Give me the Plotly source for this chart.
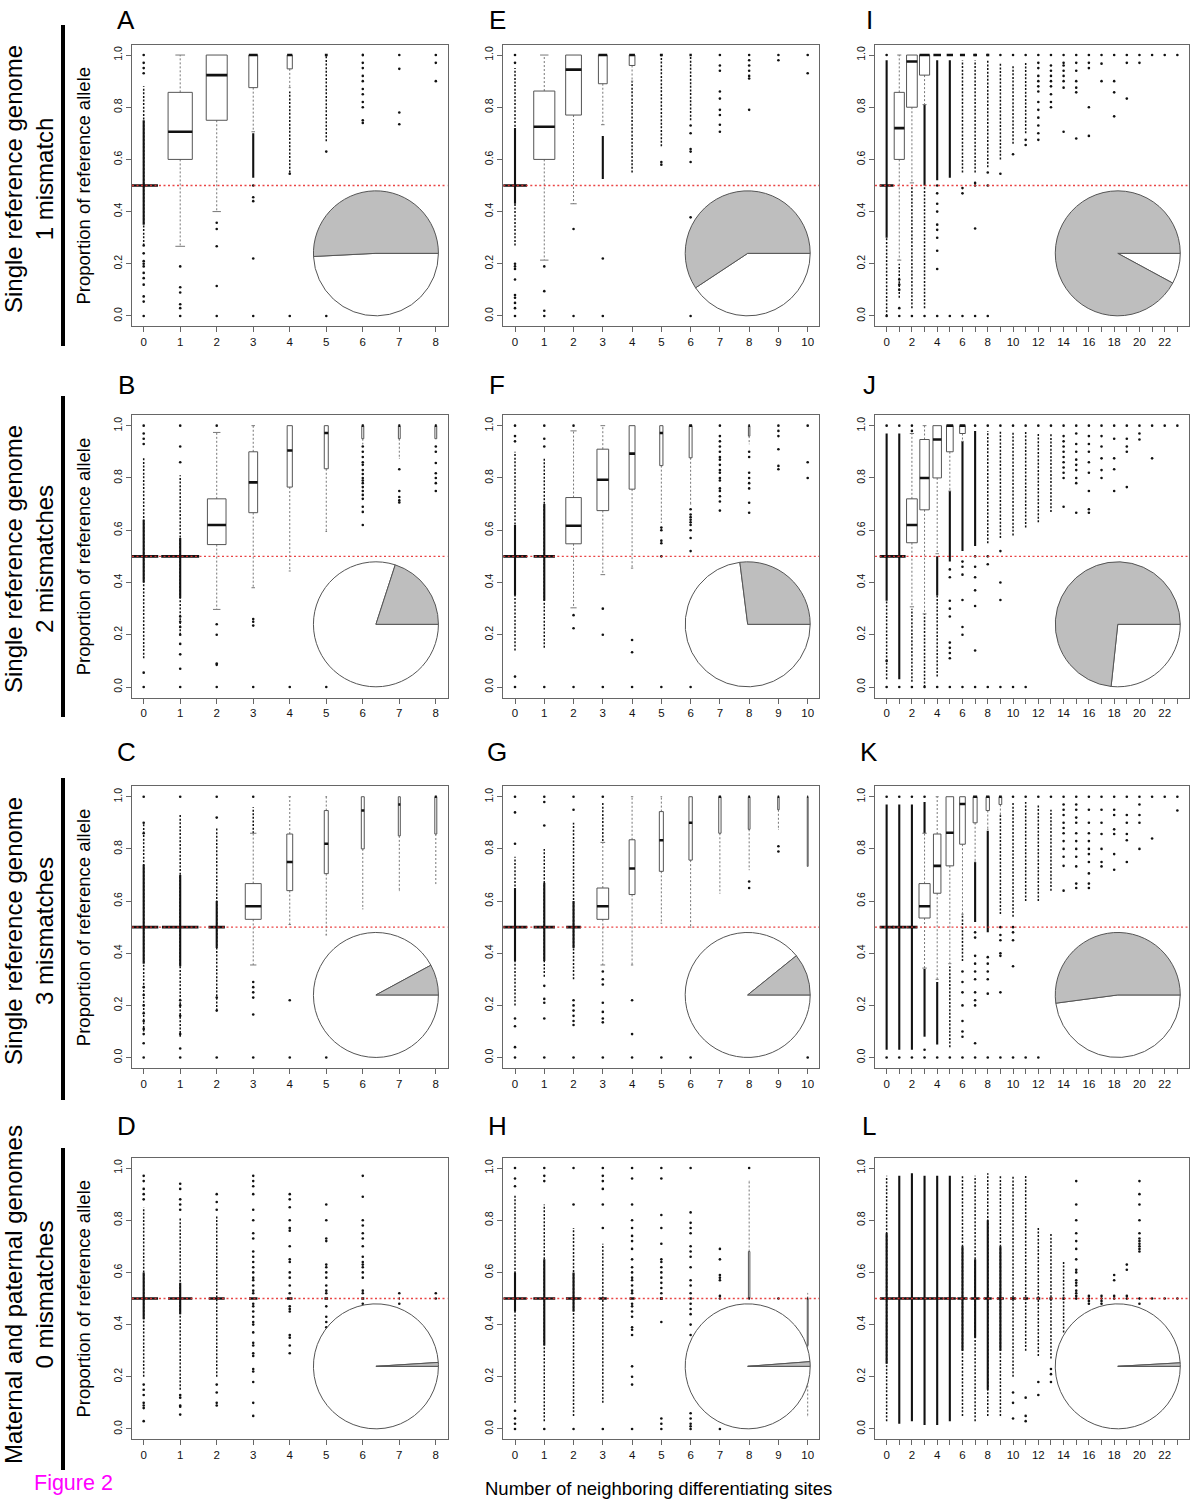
import plotly.graph_objects as go

FIG_W, FIG_H = 1190, 1501

# ---------------------------------------------------------------
# Per-panel values.
#   *_n     : relative number of sites per category (box width ~ sqrt(n))
#   *_box   : (lower whisker, Q1, median, Q3, upper whisker) or None
#   *_pts   : individual outlying values per category
#   *_thick : (category, low, high) runs of densely packed outliers
#   *_thin  : (category, low, high) runs of loosely packed outliers
#   *_pie   : fraction of sites shown as the grey pie slice
# ---------------------------------------------------------------
H5 = (0.5, 0.5, 0.5, 0.5, 0.5)
ONE = (1.0, 1.0, 1.0, 1.0, 1.0)

# ---- A : single reference, 1 mismatch (window 8) ----
A_n = [6100, 4400, 3300, 580, 200, 60, 20, 4, 3]
A_box = [H5, (0.267, 0.6, 0.706, 0.857, 1.0), (0.4, 0.75, 0.923, 1.0, 1.0),
         (0.706, 0.875, 1.0, 1.0, 1.0), (0.875, 0.947, 1.0, 1.0, 1.0), ONE, ONE, None, None]
A_pts = [[0, 0.055, 0.075, 0.12, 0.145, 0.165, 0.19, 0.2, 0.21, 0.24, 0.27, 0.93, 0.95, 0.97, 1.0],
         [0, 0.03, 0.045, 0.09, 0.11, 0.19],
         [0, 0.115, 0.267, 0.333, 0.357],
         [0, 0.22, 0.44, 0.455, 0.5],
         [0, 0.545],
         [0, 0.63],
         [0.74, 0.75, 0.8, 0.82, 0.85, 0.87, 0.9, 0.92, 0.95, 0.97, 1.0],
         [0.735, 0.78, 0.947, 1.0],
         [0.9, 0.97, 1.0]]
A_thick = [(0, 0.35, 0.75), (3, 0.53, 0.70)]
A_thin = [(0, 0.27, 0.88), (4, 0.55, 0.86), (5, 0.67, 1.0)]
A_pie = 0.508

# ---- B : single reference, 2 mismatches (window 8) ----
B_n = [6400, 10800, 2600, 580, 200, 120, 30, 25, 25]
B_box = [H5, H5, (0.297, 0.545, 0.62, 0.72, 0.974), (0.38, 0.667, 0.783, 0.9, 1.0),
         (0.444, 0.765, 0.905, 1.0, 1.0), (0.595, 0.835, 0.972, 1.0, 1.0),
         (0.93, 0.95, 1.0, 1.0, 1.0), (0.875, 0.95, 1.0, 1.0, 1.0), (0.95, 0.95, 1.0, 1.0, 1.0)]
B_pts = [[0, 0.055, 0.93, 0.95, 0.97, 1.0],
         [0, 0.07, 0.125, 0.165, 0.2, 0.23, 0.25, 0.27, 0.86, 0.92, 1.0],
         [0, 0.085, 0.09, 0.2, 0.24, 1.0],
         [0, 0.235, 0.25, 0.26],
         [0],
         [0],
         [0.62, 0.67, 0.69, 0.72, 0.735, 0.75, 0.765, 0.78, 0.79, 0.8, 0.815, 0.83, 0.85, 0.86, 0.88, 0.9, 0.92],
         [0.706, 0.714, 0.727, 0.75, 0.833],
         [0.75, 0.78, 0.8, 0.818, 0.857, 0.9, 0.92]]
B_thick = [(0, 0.40, 0.64), (1, 0.34, 0.57)]
B_thin = [(0, 0.11, 0.88), (1, 0.2, 0.81)]
B_pie = 0.2

# ---- C : single reference, 3 mismatches (window 8) ----
C_n = [6400, 10000, 2000, 1900, 260, 120, 64, 30, 30]
C_box = [H5, H5, H5, (0.355, 0.53, 0.58, 0.667, 0.86), (0.51, 0.64, 0.75, 0.857, 1.0),
         (0.47, 0.705, 0.82, 0.947, 1.0), (0.57, 0.8, 0.947, 1.0, 1.0),
         (0.64, 0.85, 0.97, 1.0, 1.0), (0.667, 0.857, 1.0, 1.0, 1.0)]
C_pts = [[0, 0.055, 0.09, 0.11, 0.14, 0.17, 0.2, 0.24, 0.27, 0.86, 0.9, 1.0],
         [0, 0.035, 0.09, 0.16, 0.2, 0.22, 1.0],
         [0, 0.18, 0.23, 0.92, 1.0],
         [0, 0.165, 0.23, 0.25, 0.27, 0.29, 1.0],
         [0, 0.22],
         [0], [], [], []]
C_thick = [(0, 0.36, 0.74), (1, 0.35, 0.70), (2, 0.42, 0.60)]
C_thin = [(0, 0.1, 0.9), (1, 0.08, 0.93), (2, 0.18, 0.88), (3, 0.86, 0.96)]
C_pie = 0.079

# ---- D : parental genomes, 0 mismatches (window 8) ----
D_n = [6200, 4400, 1900, 530, 220, 100, 64, 10, 10]
D_box = [H5, H5, H5, H5, H5, H5, H5, H5, None]
D_pts = [[0.03, 0.08, 0.09, 0.1, 0.13, 0.15, 0.17, 0.88, 0.9, 0.92, 0.95, 0.97],
         [0.055, 0.085, 0.09, 0.12, 0.13, 0.84, 0.86, 0.88, 0.92, 0.94],
         [0.09, 0.1, 0.14, 0.17, 0.84, 0.87, 0.9],
         [0.05, 0.1, 0.18, 0.22, 0.23, 0.28, 0.29, 0.32, 0.33, 0.37, 0.4, 0.41, 0.43, 0.45, 0.47,
          0.48, 0.52, 0.53, 0.55, 0.57, 0.58, 0.6, 0.62, 0.64, 0.66, 0.68, 0.73, 0.75, 0.8, 0.84,
          0.9, 0.93, 0.95, 0.97],
         [0.29, 0.32, 0.35, 0.36, 0.45, 0.46, 0.47, 0.52, 0.55, 0.58, 0.6, 0.64, 0.65, 0.7, 0.76,
          0.77, 0.8, 0.85, 0.88, 0.9],
         [0.39, 0.41, 0.43, 0.47, 0.52, 0.53, 0.55, 0.58, 0.6, 0.62, 0.63, 0.72, 0.73, 0.8, 0.86],
         [0.48, 0.52, 0.53, 0.58, 0.6, 0.62, 0.63, 0.64, 0.66, 0.7, 0.73, 0.75, 0.78, 0.8, 0.89, 0.97],
         [0.48, 0.52],
         [0.5, 0.52]]
D_thick = [(0, 0.42, 0.60), (1, 0.44, 0.56)]
D_thin = [(0, 0.2, 0.85), (1, 0.15, 0.81), (2, 0.2, 0.82)]
D_pie = 0.01

# ---- E : single reference, 1 mismatch (window 10) ----
E_n = [6700, 5200, 2900, 900, 380, 100, 64, 9, 9, 2, 2]
E_box = [H5, (0.214, 0.6, 0.725, 0.862, 1.0), (0.43, 0.77, 0.944, 1.0, 1.0),
         (0.733, 0.89, 1.0, 1.0, 1.0), (0.9, 0.96, 1.0, 1.0, 1.0), ONE, ONE, None, None, None, None]
E_pts = [[0, 0.03, 0.05, 0.07, 0.08, 0.14, 0.18, 0.19, 0.2, 0.97, 1.0],
         [0, 0.02, 0.095, 0.19],
         [0, 0.333],
         [0, 0.22],
         [],
         [0.58, 0.59],
         [0, 0.378, 0.59, 0.63, 0.64, 0.7, 0.73],
         [0.706, 0.733, 0.77, 0.79, 0.833, 0.86, 0.94, 0.96, 1.0],
         [0.79, 0.91, 0.92, 0.94, 0.96, 0.98, 1.0],
         [0.98, 1.0],
         [0.93, 1.0]]
E_thick = [(0, 0.43, 0.72), (3, 0.525, 0.69)]
E_thin = [(0, 0.27, 0.95), (4, 0.55, 0.9), (5, 0.65, 1.0), (6, 0.75, 1.0)]
E_pie = 0.593

# ---- F : single reference, 2 mismatches (window 10) ----
F_n = [7000, 5300, 2800, 1600, 400, 120, 100, 20, 25, 6, 3]
F_box = [H5, H5, (0.303, 0.548, 0.617, 0.725, 0.98), (0.43, 0.675, 0.793, 0.91, 1.0),
         (0.455, 0.757, 0.893, 1.0, 1.0), (0.63, 0.847, 0.972, 1.0, 1.0),
         (0.7, 0.877, 1.0, 1.0, 1.0), None, (0.93, 0.96, 1.0, 1.0, 1.0), None, None]
F_pts = [[0, 0.04, 0.94, 0.96, 1.0],
         [0, 0.92, 0.95, 1.0],
         [0, 0.225, 0.275, 1.0],
         [0, 0.2, 0.3],
         [0, 0.133, 0.18],
         [0, 0.5, 0.55, 0.56, 0.6, 0.61],
         [0, 0.52, 0.57, 0.6, 0.62, 0.63, 0.64, 0.65, 0.66, 0.68],
         [0.675, 0.71, 0.73, 0.75, 0.76, 0.79, 0.8, 0.82, 0.83, 0.85, 0.87, 0.88, 0.9, 0.92, 0.94, 0.96, 1.0],
         [0.667, 0.705, 0.76, 0.78, 0.8, 0.82, 0.88, 0.9],
         [0.833, 0.846, 0.91, 0.96, 0.98, 1.0],
         [0.8, 0.86, 1.0]]
F_thick = [(0, 0.35, 0.62), (1, 0.33, 0.70)]
F_thin = [(0, 0.14, 0.9), (1, 0.15, 0.88)]
F_pie = 0.27

# ---- G : single reference, 3 mismatches (window 10) ----
G_n = [7000, 5300, 2500, 1600, 400, 190, 130, 64, 36, 25, 9]
G_box = [H5, H5, H5, (0.355, 0.53, 0.58, 0.65, 0.825), (0.355, 0.625, 0.725, 0.835, 1.0),
         (0.515, 0.714, 0.833, 0.943, 1.0), (0.5, 0.757, 0.9, 1.0, 1.0),
         (0.63, 0.86, 1.0, 1.0, 1.0), (0.72, 0.875, 1.0, 1.0, 1.0),
         (0.875, 0.95, 1.0, 1.0, 1.0), (0.733, 0.733, 1.0, 1.0, 1.0)]
G_pts = [[0, 0.04, 0.12, 0.15, 0.82, 0.94, 1.0],
         [0, 0.15, 0.21, 0.225, 0.275, 0.89, 0.98, 1.0],
         [0, 0.125, 0.14, 0.16, 0.18, 0.2, 0.22, 0.95, 1.0],
         [0, 0.135, 0.15, 0.175, 0.21, 0.28, 0.3, 0.33, 1.0],
         [0, 0.09, 0.22],
         [0], [0], [], [0.65, 0.675], [0.79, 0.81], [0]]
G_thick = [(0, 0.37, 0.65), (1, 0.37, 0.67), (2, 0.42, 0.60)]
G_thin = [(0, 0.2, 0.77), (1, 0.31, 0.8), (2, 0.3, 0.9), (3, 0.83, 0.98)]
G_pie = 0.108

# ---- H : parental genomes, 0 mismatches (window 10) ----
H_n = [6400, 5600, 2700, 730, 290, 100, 64, 20, 25, 4, 9]
H_box = [H5, H5, H5, H5, H5, H5, H5, None, (0.5, 0.5, 0.5, 0.68, 0.95), None,
         (0.05, 0.32, 0.5, 0.5, 0.52)]
H_pts = [[0, 0.02, 0.04, 0.07, 0.93, 0.96, 1.0],
         [0, 0.95, 0.97, 1.0],
         [0, 0.86, 1.0],
         [0, 0.77, 0.86, 0.92, 0.95, 0.97, 1.0],
         [0, 0.17, 0.2, 0.24, 0.36, 0.38, 0.39, 0.43, 0.45, 0.47, 0.48, 0.52, 0.53, 0.55, 0.57, 0.58,
          0.6, 0.62, 0.65, 0.69, 0.72, 0.74, 0.77, 0.8, 0.86, 0.96, 1.0],
         [0, 0.02, 0.04, 0.41, 0.5, 0.52, 0.54, 0.56, 0.58, 0.6, 0.62, 0.64, 0.65, 0.71, 0.77, 0.82,
          0.96, 1.0],
         [0, 0.01, 0.02, 0.04, 0.06, 0.36, 0.4, 0.44, 0.46, 0.48, 0.52, 0.55, 0.57, 0.62, 0.66, 0.68,
          0.7, 0.75, 0.77, 0.79, 0.83, 1.0],
         [0, 0.5, 0.51, 0.57, 0.58, 0.59, 0.65, 0.69],
         [1.0],
         [0.5],
         []]
H_thick = [(0, 0.45, 0.60), (1, 0.32, 0.65), (2, 0.45, 0.60)]
H_thin = [(0, 0.1, 0.9), (1, 0.03, 0.86), (2, 0.05, 0.77), (3, 0.1, 0.71)]
H_pie = 0.012

# ---- I : single reference, 1 mismatch (window 23) ----
I_n = [12000, 6400, 7200, 6400, 3600, 2500, 1600, 900, 600, 400, 250, 150,
       60, 30, 20, 15, 10, 5, 5, 4, 3, 2, 2, 2]
I_box = [H5, (0.214, 0.6, 0.72, 0.857, 1.0), (0.51, 0.8, 0.975, 1.0, 1.0),
         (0.81, 0.923, 1.0, 1.0, 1.0), ONE, ONE, ONE, ONE, ONE] + [None] * 15
I_pts = [[0, 1.0], [0, 0.03, 0.1, 0.12, 0.14], [0], [0],
         [0, 0.18, 0.25, 0.3, 0.33, 0.35, 0.4, 0.43, 0.47, 0.5],
         [0], [0, 0.47, 0.49], [0, 0.335, 0.5, 0.51, 1.0], [0, 0.5, 0.55, 1.0],
         [0.545, 1.0], [0.62, 1.0], [0.655, 0.675, 1.0],
         [0.675, 0.7, 0.73, 0.76, 0.79, 0.82, 0.86, 0.88, 0.9, 0.92, 0.95, 0.97, 1.0],
         [0.8, 0.82, 0.85, 0.88, 0.9, 0.92, 0.94, 0.96, 1.0],
         [0.706, 0.875, 0.9, 0.92, 0.94, 0.96, 0.97, 1.0],
         [0.68, 0.857, 0.875, 0.9, 0.94, 0.97, 1.0],
         [0.69, 0.8, 0.95, 0.97, 1.0],
         [0.9, 0.967, 1.0],
         [0.765, 0.857, 0.9, 1.0],
         [0.833, 0.97, 1.0],
         [0.97, 1.0], [1.0], [1.0], [1.0]]
I_thick = [(0, 0.3, 0.98), (3, 0.5, 0.81), (4, 0.52, 0.98), (5, 0.53, 0.98)]
I_thin = [(0, 0.0, 0.3), (1, 0.07, 0.2), (2, 0.03, 0.5), (3, 0.03, 0.5), (6, 0.55, 0.98),
          (7, 0.55, 0.98), (8, 0.57, 0.98), (9, 0.6, 0.97), (10, 0.66, 0.96), (11, 0.7, 0.97)]
I_pie = 0.921

# ---- J : single reference, 2 mismatches (window 23) ----
J_n = [12000, 10000, 7200, 5600, 4500, 2800, 2000, 900, 600, 400, 250, 150,
       80, 50, 20, 15, 10, 6, 5, 5, 3, 2, 2, 2]
J_box = [H5, H5, (0.307, 0.552, 0.62, 0.72, 0.97), (0.28, 0.678, 0.8, 0.947, 1.0),
         (0.51, 0.8, 0.947, 1.0, 1.0), (0.75, 0.9, 1.0, 1.0, 1.0),
         (0.94, 0.97, 1.0, 1.0, 1.0)] + [None] * 17
J_pts = [[0, 0.1, 1.0], [0, 1.0], [0, 0.98, 1.0], [0], [0],
         [0, 0.11, 0.13, 0.15, 0.17, 0.27, 0.3, 0.33, 0.42, 0.45],
         [0, 0.2, 0.23, 0.333, 0.43, 0.46, 0.48],
         [0, 0.14, 0.31, 0.37, 0.42, 0.46, 0.5, 1.0],
         [0, 0.47, 0.5, 1.0],
         [0, 0.333, 0.4, 0.52, 1.0],
         [0, 1.0], [0, 1.0], [1.0], [1.0],
         [0.69, 0.8, 0.82, 0.84, 0.86, 0.88, 0.9, 0.92, 0.94, 0.96, 1.0],
         [0.667, 0.78, 0.8, 0.83, 0.85, 0.87, 0.9, 0.93, 0.97, 1.0],
         [0.667, 0.68, 0.75, 0.82, 0.86, 0.9, 0.93, 0.96, 1.0],
         [0.8, 0.83, 0.875, 0.92, 0.96, 1.0],
         [0.75, 0.833, 0.875, 0.95, 1.0],
         [0.765, 0.9, 0.92, 0.95, 1.0],
         [0.947, 0.97, 1.0], [0.875, 1.0], [1.0], [1.0]]
J_thick = [(0, 0.33, 0.97), (1, 0.03, 0.97), (4, 0.35, 0.5), (5, 0.48, 0.75), (6, 0.52, 0.94),
           (7, 0.54, 0.98)]
J_thin = [(0, 0.03, 0.33), (2, 0.02, 0.3), (3, 0.0, 0.28), (4, 0.04, 0.35), (8, 0.55, 0.98),
          (9, 0.57, 0.98), (10, 0.58, 0.98), (11, 0.61, 0.98), (12, 0.63, 0.97), (13, 0.67, 0.97)]
J_pie = 0.733

# ---- K : single reference, 3 mismatches (window 23) ----
K_n = [12000, 12000, 7700, 7700, 3500, 3600, 2000, 1000, 700, 450, 250, 150,
       80, 50, 20, 15, 12, 8, 8, 6, 5, 2, 2, 3]
K_box = [H5, H5, H5, (0.343, 0.535, 0.58, 0.667, 0.86), (0.3, 0.63, 0.735, 0.857, 1.0),
         (0.36, 0.735, 0.862, 1.0, 1.0), (0.55, 0.818, 0.972, 1.0, 1.0),
         (0.75, 0.9, 1.0, 1.0, 1.0), (0.875, 0.947, 1.0, 1.0, 1.0),
         (0.93, 0.97, 1.0, 1.0, 1.0)] + [None] * 14
K_pts = [[0, 1.0], [0, 1.0], [0, 1.0], [0, 0.03, 1.0], [0], [0],
         [0, 0.08, 0.1, 0.14, 0.2, 0.25, 0.29, 0.33],
         [0, 0.055, 0.2, 0.22, 0.25, 0.3, 0.33, 0.36, 0.39, 0.46, 0.48],
         [0, 0.245, 0.3, 0.33, 0.36, 0.385],
         [0, 0.25, 0.39, 0.4, 0.45, 0.47, 0.5],
         [0, 0.35, 0.45, 0.48, 0.5, 1.0],
         [0, 1.0], [0, 1.0], [1.0],
         [0.64, 0.735, 0.77, 0.8, 0.83, 0.86, 0.88, 0.9, 0.93, 0.95, 0.97, 1.0],
         [0.65, 0.667, 0.733, 0.77, 0.8, 0.83, 0.86, 0.9, 0.92, 0.95, 0.97, 1.0],
         [0.65, 0.667, 0.706, 0.75, 0.78, 0.8, 0.83, 0.86, 0.9, 0.95, 1.0],
         [0.733, 0.75, 0.8, 0.857, 0.9, 0.95, 1.0],
         [0.72, 0.78, 0.857, 0.875, 0.93, 0.95, 1.0],
         [0.75, 0.833, 0.857, 0.9, 0.93, 1.0],
         [0.8, 0.9, 0.93, 0.97, 1.0],
         [0.84, 1.0], [1.0], [0.947, 1.0]]
K_thick = [(0, 0.03, 0.97), (1, 0.03, 0.97), (2, 0.03, 0.97), (3, 0.86, 0.98), (3, 0.08, 0.34),
           (4, 0.05, 0.29), (7, 0.52, 0.75), (8, 0.48, 0.87)]
K_thin = [(5, 0.04, 0.35), (6, 0.37, 0.55), (9, 0.55, 0.93), (10, 0.54, 0.98), (11, 0.6, 0.98),
          (12, 0.6, 0.97), (13, 0.64, 0.95)]
K_pie = 0.521

# ---- L : parental genomes, 0 mismatches (window 23) ----
L_n = [11000, 11000, 11000, 11000, 10000, 9000, 6400, 5000, 4000, 3000, 2000, 1500,
       900, 600, 400, 100, 30, 30, 30, 30, 30, 4, 4, 4]
L_box = [H5] * 21 + [None] * 3
L_pts = [[], [], [], [], [], [], [], [], [], [], [0.04, 0.1, 0.14], [0.03, 0.05, 0.12], [0.13, 0.18],
         [0.18, 0.21, 0.23], [],
         [0.5, 0.51, 0.52, 0.53, 0.55, 0.56, 0.57, 0.6, 0.61, 0.65, 0.69, 0.72, 0.75, 0.8, 0.86, 0.95],
         [0.48, 0.49, 0.5, 0.51], [0.48, 0.49, 0.5, 0.51], [0.5, 0.51, 0.57, 0.59],
         [0.5, 0.51, 0.61, 0.63],
         [0.48, 0.5, 0.68, 0.69, 0.7, 0.71, 0.72, 0.73, 0.75, 0.8, 0.86, 0.9, 0.95],
         [0.5], [0.5], [0.5]]
L_thick = [(0, 0.25, 0.75), (1, 0.02, 0.97), (2, 0.03, 0.98), (3, 0.015, 0.97), (4, 0.015, 0.97),
           (5, 0.03, 0.97), (6, 0.3, 0.7), (7, 0.35, 0.65), (8, 0.15, 0.8), (9, 0.3, 0.7)]
L_thin = [(0, 0.03, 0.97), (6, 0.05, 0.97), (7, 0.03, 0.97), (8, 0.05, 0.98), (9, 0.05, 0.97),
          (10, 0.2, 0.97), (11, 0.3, 0.97), (12, 0.28, 0.77), (13, 0.27, 0.75), (14, 0.37, 0.64)]
L_pie = 0.009

PANELS = {
    "A": (A_n, A_box, A_pts, A_thick, A_thin, A_pie),
    "B": (B_n, B_box, B_pts, B_thick, B_thin, B_pie),
    "C": (C_n, C_box, C_pts, C_thick, C_thin, C_pie),
    "D": (D_n, D_box, D_pts, D_thick, D_thin, D_pie),
    "E": (E_n, E_box, E_pts, E_thick, E_thin, E_pie),
    "F": (F_n, F_box, F_pts, F_thick, F_thin, F_pie),
    "G": (G_n, G_box, G_pts, G_thick, G_thin, G_pie),
    "H": (H_n, H_box, H_pts, H_thick, H_thin, H_pie),
    "I": (I_n, I_box, I_pts, I_thick, I_thin, I_pie),
    "J": (J_n, J_box, J_pts, J_thick, J_thin, J_pie),
    "K": (K_n, K_box, K_pts, K_thick, K_thin, K_pie),
    "L": (L_n, L_box, L_pts, L_thick, L_thin, L_pie),
}

ROW_LABELS = ["Single reference genome<br>1 mismatch",
              "Single reference genome<br>2 mismatches",
              "Single reference genome<br>3 mismatches",
              "Maternal and paternal genomes<br>0 mismatches"]
Y_TITLE = "Proportion of reference allele"
X_TITLE = "Number of neighboring differentiating sites"
Y_TICKS = [0.0, 0.2, 0.4, 0.6, 0.8, 1.0]

# ---------------------------------------------------------------
# Page geometry (pixels)
# ---------------------------------------------------------------
COL_PX = [(132, 447.5), (503.3, 819.4), (875, 1189)]
ROW_PX = [(44.6, 326.4), (415.2, 697.5), (786.3, 1068), (1157.6, 1439.4)]
LETTER_Y = [20, 385, 752, 1126]
ROW_LABEL_Y = [179, 559, 931, 1295]
BAR_Y = [(25, 346), (396, 717), (778, 1100), (1148, 1470)]
PIE_R = 62.5

FONT = "Liberation Sans, Arial, Helvetica, sans-serif"


def px_to_paper_x(px):
    return px / FIG_W


def px_to_paper_y(py):
    return 1 - py / FIG_H


fig = go.Figure()
layout_axes = {}
annotations = []
shapes = []

for k, letter in enumerate("ABCDEFGHIJKL"):
    col, row = k // 4, k % 4
    n, boxes, pts, thick, thin, pie_frac = PANELS[letter]
    ncat = len(n)
    xmax = ncat - 1
    xr = (-0.04 * xmax, 1.04 * xmax)
    yr = (-0.04, 1.04)
    idx = k + 1
    xa = "x" if idx == 1 else f"x{idx}"
    ya = "y" if idx == 1 else f"y{idx}"
    xkey = "xaxis" if idx == 1 else f"xaxis{idx}"
    ykey = "yaxis" if idx == 1 else f"yaxis{idx}"
    (L, R), (T, B) = COL_PX[col], ROW_PX[row]

    xt_vals = list(range(ncat))
    if xmax > 12:
        xt_text = [str(v) if v % 2 == 0 else "" for v in xt_vals]
    else:
        xt_text = [str(v) for v in xt_vals]

    layout_axes[xkey] = dict(
        domain=[px_to_paper_x(L), px_to_paper_x(R)], anchor=ya, range=list(xr),
        showgrid=False, zeroline=False, showline=True, mirror=True, linecolor="#666666",
        linewidth=1, ticks="outside", ticklen=5, tickcolor="#666666", tickwidth=1,
        tickvals=xt_vals, ticktext=xt_text, tickangle=0,
        tickfont=dict(family=FONT, size=11.5, color="#111111"), fixedrange=True)
    layout_axes[ykey] = dict(
        domain=[px_to_paper_y(B), px_to_paper_y(T)], anchor=xa, range=list(yr),
        showgrid=False, zeroline=False, showline=True, mirror=True, linecolor="#666666",
        linewidth=1, ticks="outside", ticklen=5, tickcolor="#666666", tickwidth=1,
        tickvals=Y_TICKS, ticktext=[f"{v:.1f}" for v in Y_TICKS], tickangle=-90,
        tickfont=dict(family=FONT, size=10.5, color="#111111"), fixedrange=True)

    # box geometry
    bx, by = [], []       # box outlines
    mx, my = [], []       # medians
    wx, wy = [], []       # whiskers
    sx, sy = [], []       # staples
    for c in range(ncat):
        b = boxes[c]
        if b is None:
            continue
        lo, q1, med, q3, hi = b
        w = (n[c] ** 0.5) / 100.0
        h = w / 2
        if q3 > q1:
            bx += [c - h, c + h, c + h, c - h, c - h, None]
            by += [q1, q1, q3, q3, q1, None]
        mx += [c - h, c + h, None]
        my += [med, med, None]
        st = w * 0.2
        if lo < q1:
            wx += [c, c, None]
            wy += [q1, lo, None]
            sx += [c - st, c + st, None]
            sy += [lo, lo, None]
        if hi > q3:
            wx += [c, c, None]
            wy += [q3, hi, None]
            sx += [c - st, c + st, None]
            sy += [hi, hi, None]

    # runs of outliers
    tx, ty = [], []
    for c, lo, hi in thick:
        tx += [c, c, None]
        ty += [lo, hi, None]
    dx, dy = [], []
    for c, lo, hi in thin:
        dx += [c, c, None]
        dy += [lo, hi, None]
    px_, py_ = [], []
    for c in range(ncat):
        for v in pts[c]:
            px_.append(c)
            py_.append(v)

    common = dict(xaxis=xa, yaxis=ya, hoverinfo="skip", showlegend=False)
    fig.add_trace(go.Scatter(x=dx, y=dy, mode="lines",
                             line=dict(color="#111111", width=1.5, dash="2px,1.6px"), **common))
    fig.add_trace(go.Scatter(x=tx, y=ty, mode="lines",
                             line=dict(color="#111111", width=2.1), **common))
    fig.add_trace(go.Scatter(x=px_, y=py_, mode="markers",
                             marker=dict(color="#111111", size=2.6, line=dict(width=0)), **common))
    fig.add_trace(go.Scatter(x=wx, y=wy, mode="lines",
                             line=dict(color="#777777", width=1, dash="2px,2px"), **common))
    fig.add_trace(go.Scatter(x=sx, y=sy, mode="lines",
                             line=dict(color="#777777", width=1), **common))
    fig.add_trace(go.Scatter(x=bx, y=by, mode="lines",
                             line=dict(color="#555555", width=1), **common))
    fig.add_trace(go.Scatter(x=mx, y=my, mode="lines",
                             line=dict(color="#111111", width=2.6), **common))
    # equal-allele reference line
    fig.add_trace(go.Scatter(x=list(xr), y=[0.5, 0.5], mode="lines",
                             line=dict(color="rgba(232,50,50,0.9)", width=1.3, dash="2px,2.5px"),
                             **common))

    # inset pie, centred at data position (0.795 * xmax, 0.24);
    # grey slice runs anticlockwise from 3 o'clock
    cx = L + (0.795 * xmax - xr[0]) / (xr[1] - xr[0]) * (R - L)
    cy = B - (0.24 - yr[0]) / (yr[1] - yr[0]) * (B - T)
    fig.add_trace(go.Pie(
        values=[1 - pie_frac, pie_frac], sort=False, direction="counterclockwise",
        rotation=90, marker=dict(colors=["#ffffff", "#bebebe"], line=dict(color="#555555", width=1)),
        textinfo="none", hoverinfo="skip", showlegend=False,
        domain=dict(x=[px_to_paper_x(cx - PIE_R), px_to_paper_x(cx + PIE_R)],
                    y=[px_to_paper_y(cy + PIE_R), px_to_paper_y(cy - PIE_R)])))

    # panel letter
    annotations.append(dict(text=letter, x=px_to_paper_x(L - 6), y=px_to_paper_y(LETTER_Y[row]),
                            xref="paper", yref="paper", showarrow=False, xanchor="center",
                            yanchor="middle", font=dict(family=FONT, size=26, color="#000000")))
    if col == 0:
        annotations.append(dict(text=Y_TITLE, x=px_to_paper_x(83), y=px_to_paper_y((T + B) / 2),
                                xref="paper", yref="paper", showarrow=False, textangle=-90,
                                xanchor="center", yanchor="middle",
                                font=dict(family=FONT, size=18.5, color="#000000")))

for row in range(4):
    annotations.append(dict(text=ROW_LABELS[row], x=px_to_paper_x(29),
                            y=px_to_paper_y(ROW_LABEL_Y[row]), xref="paper", yref="paper",
                            showarrow=False, textangle=-90, xanchor="center", yanchor="middle",
                            align="center", font=dict(family=FONT, size=24, color="#000000")))
    y0, y1 = BAR_Y[row]
    shapes.append(dict(type="line", xref="paper", yref="paper",
                       x0=px_to_paper_x(63), x1=px_to_paper_x(63),
                       y0=px_to_paper_y(y0), y1=px_to_paper_y(y1),
                       line=dict(color="#000000", width=4)))

annotations.append(dict(text=X_TITLE, x=px_to_paper_x(658), y=px_to_paper_y(1488),
                        xref="paper", yref="paper", showarrow=False, xanchor="center",
                        yanchor="middle", font=dict(family=FONT, size=18.5, color="#000000")))
annotations.append(dict(text="Figure 2", x=px_to_paper_x(32), y=px_to_paper_y(1483),
                        xref="paper", yref="paper", showarrow=False, xanchor="left",
                        yanchor="middle", font=dict(family=FONT, size=21.5, color="#ff00ff")))

fig.update_layout(
    width=FIG_W, height=FIG_H, margin=dict(l=0, r=0, t=0, b=0),
    paper_bgcolor="#ffffff", plot_bgcolor="#ffffff", showlegend=False,
    annotations=annotations, shapes=shapes, **layout_axes)

fig.write_html("out.html", config={"displayModeBar": False})
